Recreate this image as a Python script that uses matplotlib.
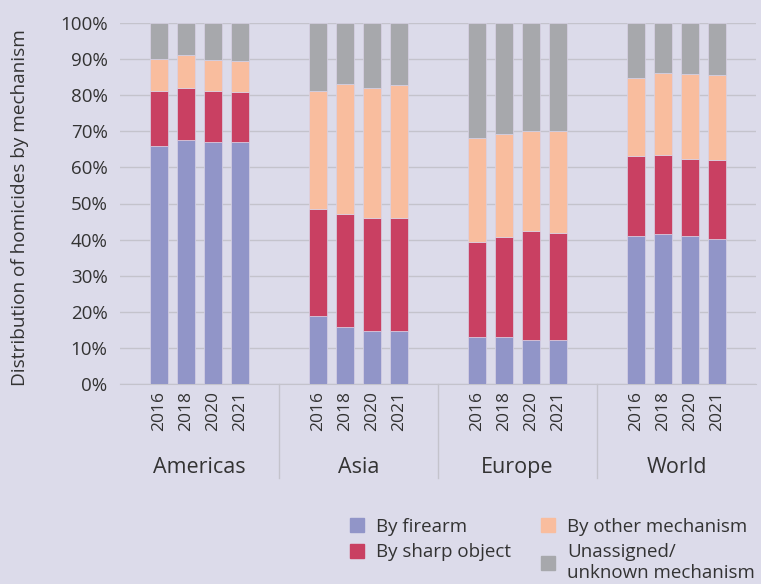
import numpy as np
import matplotlib.pyplot as plt
from matplotlib.patches import Patch

regions = ["Americas", "Asia", "Europe", "World"]
years = ["2016", "2018", "2020", "2021"]

# cumulative tops (%), per region, per year
firearm = [[66.0, 67.7, 66.9, 67.1],
           [18.7, 15.7, 14.8, 14.6],
           [12.9, 13.0, 12.2, 12.2],
           [41.0, 41.6, 40.9, 40.2]]
sharp_top = [[81.2, 82.1, 81.1, 80.8],
             [48.5, 47.2, 45.9, 46.0],
             [39.3, 40.7, 42.4, 41.7],
             [63.1, 63.4, 62.4, 62.0]]
other_top = [[90.0, 91.1, 89.7, 89.4],
             [81.2, 83.2, 82.0, 82.7],
             [68.1, 69.3, 70.2, 70.2],
             [84.9, 86.2, 86.0, 85.7]]

firearm = np.array(firearm)
sharp = np.array(sharp_top) - firearm
other = np.array(other_top) - np.array(sharp_top)
unknown = 100 - np.array(other_top)

names = ["By firearm", "By sharp object", "By other mechanism", "Unassigned/\nunknown mechanism"]
colors = ["#9195c8", "#c94062", "#f9bd9e", "#a7a8ac"]
bg = "#dcdbea"

plt.rcParams['font.family'] = ['Open Sans', 'DejaVu Sans']
fig = plt.figure(figsize=(7.61, 5.84), dpi=100, facecolor=bg)
ax = fig.add_axes([120/761, 1-384/584, 636/761, 361/584], facecolor=bg)

G = 5.89
xs = []
for i in range(len(regions)):
    for j in range(len(years)):
        xs.append(i*G + G/2 + (j - 1.5))
xs = np.array(xs)

bottom = np.zeros(len(xs))
for vals, c in zip([firearm, sharp, other, unknown], colors):
    v = vals.flatten()
    ax.bar(xs, v, 0.67, bottom=bottom, color=c, edgecolor="#d8d2e6", linewidth=0.5, zorder=3)
    bottom += v

ax.set_xlim(0, 4*G)
ax.set_ylim(0, 100)
ax.set_yticks(np.arange(0, 101, 10))
ax.set_yticklabels([f"{t}%" for t in range(0, 101, 10)], fontsize=13.5, color="#333333")
ax.yaxis.grid(True, color="#c4c3cc", linewidth=1, zorder=0)
ax.set_xticks(xs)
ax.set_xticklabels(years*4, rotation=90, fontsize=12.5, color="#333333")
ax.tick_params(axis="both", length=0)
ax.tick_params(axis="x", pad=5)
ax.tick_params(axis="y", pad=9)
for s in ["top", "right", "left"]:
    ax.spines[s].set_visible(False)
ax.spines["bottom"].set_color("#c4c3cc")
ax.set_ylabel("Distribution of homicides by mechanism", fontsize=13.7, color="#333333")
ax.yaxis.set_label_coords(-0.143, 0.49)

for i in range(1, 4):
    ax.plot([i*G, i*G], [0, -26], color="#c4c3cc", linewidth=1, clip_on=False)
for i, r in enumerate(regions):
    ax.text(i*G + G/2, -0.232, r, transform=ax.get_xaxis_transform(),
            ha="center", va="center", fontsize=15.5, color="#333333")

handles = [Patch(color=c) for c in colors]
fig.legend(handles, names, loc="upper left", bbox_to_anchor=(333/761, 1-501/584), ncol=2,
           frameon=False, fontsize=13.5, handlelength=0.75, handleheight=0.75,
           handletextpad=0.65, columnspacing=1.6, labelspacing=0.4, labelcolor="#333333")

fig.savefig("out.png", dpi=100, facecolor=bg)
